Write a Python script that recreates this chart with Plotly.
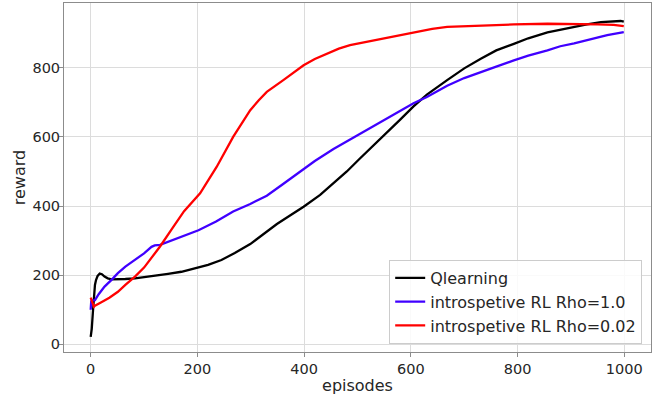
import plotly.graph_objects as go

# Qlearning
q_ep = [0, 2, 4, 6, 8, 10, 13, 17, 21, 26, 32, 39, 50, 65, 83, 100, 120, 145, 170, 195,
        220, 245, 270, 299, 317, 349, 375, 399, 430, 455, 480, 505, 530, 549, 580, 605,
        630, 668, 700, 731, 760, 793, 820, 856, 880, 906, 930, 956, 980, 993, 999]
q_val = [22, 45, 90, 140, 172, 186, 198, 205, 203, 196, 191, 188, 188, 189, 191, 194, 198,
         204, 210, 220, 230, 244, 264, 290, 310, 348, 374, 398, 432, 465, 500, 538, 575,
         602, 650, 688, 722, 764, 798, 826, 850, 869, 885, 902, 910, 918, 925, 932, 934,
         935, 933]

# introspetive RL Rho=1.0
b_ep = [0, 1, 4, 8, 15, 26, 40, 51, 65, 83, 100, 114, 120, 130, 145, 170, 202, 235, 267,
        299, 330, 360, 392, 420, 455, 474, 517, 549, 580, 605, 630, 668, 700, 731, 760,
        793, 820, 856, 880, 906, 930, 968, 999]
b_val = [100, 124, 127, 128, 145, 167, 188, 206, 225, 244, 263, 282, 286, 288, 297, 312,
         330, 355, 384, 406, 430, 463, 500, 530, 565, 582, 619, 648, 675, 697, 715, 748,
         770, 788, 803, 821, 835, 850, 862, 870, 880, 894, 903]

# introspetive RL Rho=0.02
r_ep = [0, 2, 4, 6, 8, 12, 20, 35, 51, 65, 83, 100, 114, 130, 151, 175, 205, 236, 267,
        299, 315, 330, 361, 399, 420, 443, 465, 486, 530, 580, 605, 640, 668, 700, 731,
        793, 856, 905, 950, 980, 999]
r_val = [135, 125, 114, 109, 112, 116, 122, 135, 152, 172, 196, 222, 249, 283, 331, 385,
         437, 513, 600, 677, 706, 730, 764, 807, 825, 841, 855, 865, 879, 894, 903, 912,
         918, 920, 923, 925, 927, 927, 925, 924, 920]

x_ticks = [0, 200, 400, 600, 800, 1000]
y_ticks = [0, 200, 400, 600, 800]

names = ["Qlearning", "introspetive RL Rho=1.0", "introspetive RL Rho=0.02"]
colors = ["#000000", "#4000ff", "#ff0000"]

fig = go.Figure()
for ep, val, name, col in [(q_ep, q_val, names[0], colors[0]),
                           (b_ep, b_val, names[1], colors[1]),
                           (r_ep, r_val, names[2], colors[2])]:
    fig.add_trace(go.Scatter(x=ep, y=val, mode="lines", name=name,
                             line=dict(color=col, width=2.3)))

font_family = "DejaVu Sans"
fig.update_layout(
    width=658, height=395,
    margin=dict(l=64, r=7, t=3, b=43, autoexpand=False),
    paper_bgcolor="white", plot_bgcolor="white",
    font=dict(family=font_family, color="#262626"),
    showlegend=True,
    legend=dict(x=0.985, y=0.023, xanchor="right", yanchor="bottom",
                bgcolor="rgba(255,255,255,0.85)", bordercolor="#cccccc", borderwidth=1,
                font=dict(size=16, family=font_family, color="#262626"),
                tracegroupgap=0),
)
fig.update_xaxes(
    range=[-50, 1050], tickvals=x_ticks, ticktext=[str(t) for t in x_ticks],
    showgrid=True, gridcolor="#dcdcdc", gridwidth=1, zeroline=False,
    showline=True, mirror=True, linecolor="#8c8c8c", linewidth=1,
    ticks="outside", ticklen=4, tickcolor="#8c8c8c",
    tickfont=dict(size=14.5),
    title=dict(text="episodes", font=dict(size=16), standoff=4),
)
fig.update_yaxes(
    range=[-22, 987], tickvals=y_ticks, ticktext=[str(t) for t in y_ticks],
    showgrid=True, gridcolor="#dcdcdc", gridwidth=1, zeroline=False,
    showline=True, mirror=True, linecolor="#8c8c8c", linewidth=1,
    ticks="outside", ticklen=4, tickcolor="#8c8c8c",
    tickfont=dict(size=14.5), ticklabelstandoff=-4,
    title=dict(text="reward", font=dict(size=16), standoff=2),
)

fig.write_html("out.html", config={"displayModeBar": False},
               post_script="document.body.style.margin='0';document.body.style.padding='0';")
